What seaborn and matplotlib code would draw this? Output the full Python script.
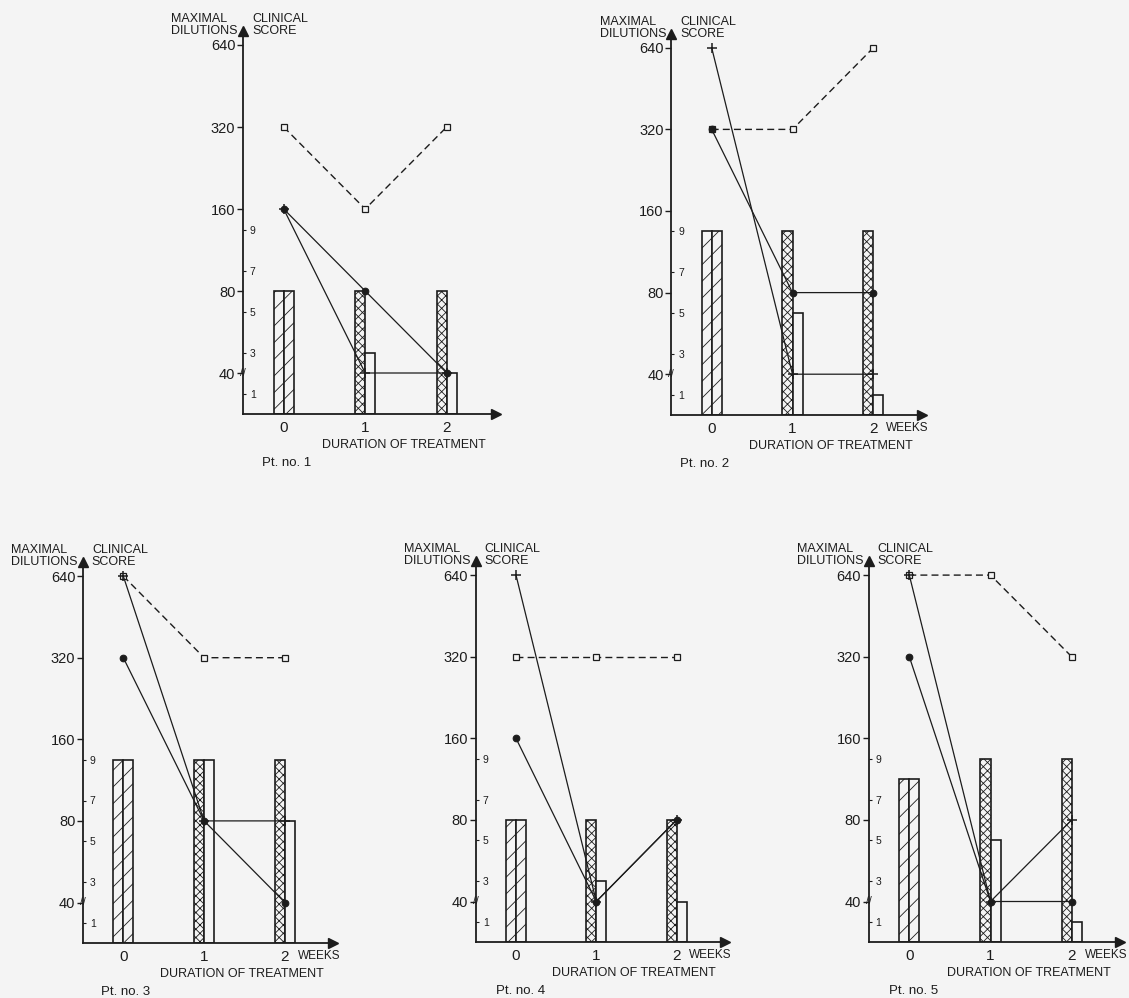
import matplotlib
matplotlib.use("Agg")
import matplotlib.pyplot as plt
import seaborn as sns
import pandas as pd
import numpy as np

# ---------------- data ----------------
weeks = [0, 1, 2]
week_labels = ["0", "1", "2"]
dil_ticks = [40, 80, 160, 320, 640]
dil_labels = ["40", "80", "160", "320", "640"]
score_ticks = [1, 3, 5, 7, 9]
patients = ["Pt. no. 1", "Pt. no. 2", "Pt. no. 3", "Pt. no. 4", "Pt. no. 5"]

# maximal dilutions (dashed/open squares, solid/filled circles, solid/plus)
p1_dashed = [320, 160, 320]
p1_circle = [160, 80, 40]
p1_plus = [160, 40, 40]
p2_dashed = [320, 320, 640]
p2_circle = [320, 80, 80]
p2_plus = [640, 40, 40]
p3_dashed = [640, 320, 320]
p3_circle = [320, 80, 40]
p3_plus = [640, 80, 80]
p4_dashed = [320, 320, 320]
p4_circle = [160, 40, 80]
p4_plus = [640, 40, 80]
p5_dashed = [640, 640, 320]
p5_circle = [320, 40, 40]
p5_plus = [640, 40, 80]

# clinical scores (left bar / right bar at each week)
p1_score_left = [6, 6, 6]
p1_score_right = [6, 3, 2]
p2_score_left = [9, 9, 9]
p2_score_right = [9, 5, 1]
p3_score_left = [9, 9, 9]
p3_score_right = [9, 9, 6]
p4_score_left = [6, 6, 6]
p4_score_right = [6, 3, 2]
p5_score_left = [8, 9, 9]
p5_score_right = [8, 5, 1]

dashed_all = [p1_dashed, p2_dashed, p3_dashed, p4_dashed, p5_dashed]
circle_all = [p1_circle, p2_circle, p3_circle, p4_circle, p5_circle]
plus_all = [p1_plus, p2_plus, p3_plus, p4_plus, p5_plus]
left_all = [p1_score_left, p2_score_left, p3_score_left, p4_score_left, p5_score_left]
right_all = [p1_score_right, p2_score_right, p3_score_right, p4_score_right, p5_score_right]

# ---------------- layout (pixels) ----------------
W, H = 1129, 998
BG = "#f4f4f4"
INK = "#1c1c1c"
# (x of week 0, px per week, baseline y, px per score unit)
layout = [
    (283.7, 81.5, 414.0, 20.5),
    (711.7, 80.8, 415.0, 20.4),
    (123.3, 80.8, 943.3, 20.4),
    (516.0, 80.3, 942.3, 20.4),
    (909.3, 81.2, 942.3, 20.4),
]
pt_xpos = [-0.27, -0.39, -0.27, -0.25, -0.25]
show_weeks = [False, True, True, True, True]
XMIN, XMAX = -0.5, 2.6
YTOP = 18.7  # in score units

sns.set_theme(style="white")
plt.rcParams["font.family"] = ["Liberation Sans", "DejaVu Sans"]
plt.rcParams["hatch.linewidth"] = 0.6
plt.rcParams["hatch.color"] = INK

fig = plt.figure(figsize=(W / 100, H / 100), dpi=100, facecolor=BG)

for i in range(5):
    x0, ux, base, us = layout[i]
    left = (x0 + XMIN * ux) / W
    width = (XMAX - XMIN) * ux / W
    bottom = 1 - base / H
    height = YTOP * us / H
    ax = fig.add_axes([left, bottom, width, height])
    ax.set_facecolor("none")

    # ---- bars: clinical score ----
    bars = pd.DataFrame({
        "week": weeks + weeks,
        "score": left_all[i] + right_all[i],
        "side": ["left"] * 3 + ["right"] * 3,
    })
    sns.barplot(data=bars, x="week", y="score", hue="side", native_scale=True,
                width=0.25, gap=0, dodge=True, palette=[BG, BG], saturation=1,
                edgecolor=INK, linewidth=1.2, errorbar=None, legend=False, ax=ax)
    for p in ax.patches:
        cx = p.get_x() + p.get_width() / 2
        wk = round(cx)
        p.set_facecolor(BG)
        p.set_edgecolor(INK)
        if wk == 0:
            p.set_hatch("//")
        elif cx < wk:
            p.set_hatch("xxxx")
        else:
            p.set_hatch("")

    ax.set_xlim(XMIN, XMAX)
    ax.set_ylim(0, YTOP)
    ax.set_xlabel("")
    ax.set_ylabel("")

    # ---- lines: maximal dilutions on log2 twin axis ----
    ax2 = ax.twinx()
    ax2.set_facecolor("none")
    sns.lineplot(x=weeks, y=dashed_all[i], ax=ax2, color=INK, lw=1.0,
                 linestyle=(0, (5, 3)), marker="s", markersize=4.5,
                 markerfacecolor=BG, markeredgecolor=INK, markeredgewidth=0.9)
    sns.lineplot(x=weeks, y=plus_all[i], ax=ax2, color=INK, lw=0.9,
                 marker="+", markersize=6.5, markeredgewidth=1.1,
                 markeredgecolor=INK)
    sns.lineplot(x=weeks, y=circle_all[i], ax=ax2, color=INK, lw=0.9,
                 marker="o", markersize=4.8, markerfacecolor=INK,
                 markeredgecolor=INK)
    ax2.set_yscale("log", base=2)
    ax2.set_ylim(40 / np.sqrt(2), 40 * 2 ** ((YTOP - 2) / 4))
    ax2.set_xlim(XMIN, XMAX)
    ax2.set_yticks(dil_ticks)
    ax2.set_yticklabels(dil_labels)
    ax2.yaxis.set_minor_locator(matplotlib.ticker.NullLocator())
    ax2.yaxis.tick_left()
    ax2.tick_params(axis="y", which="major", left=True, labelleft=True,
                    right=False, labelright=False, direction="out",
                    length=4, width=1.0, color=INK, pad=1.5,
                    labelsize=10.5, labelcolor=INK)
    ax2.set_ylabel("")
    for s in ax2.spines.values():
        s.set_visible(False)

    # score ticks drawn on the inner side of the left axis
    ax.yaxis.tick_right()
    ax.spines["right"].set_position(("axes", 0))
    ax.set_yticks(score_ticks)
    ax.set_yticklabels([str(t) for t in score_ticks])
    ax.tick_params(axis="y", right=True, labelright=True, left=False,
                   labelleft=False, direction="out", length=2.5, width=0.8,
                   color=INK, pad=2.5, labelsize=7.5, labelcolor=INK)
    ax.set_xticks(weeks)
    ax.set_xticklabels(week_labels)
    ax.tick_params(axis="x", bottom=True, length=0, pad=5, labelsize=11,
                   labelcolor=INK)

    for name, s in ax.spines.items():
        if name in ("left", "bottom"):
            s.set_visible(True)
            s.set_color(INK)
            s.set_linewidth(1.3)
        else:
            s.set_visible(False)

    # axis arrows
    ax.plot([XMAX], [0], marker=">", color=INK, markersize=6.5, clip_on=False)
    ax.plot([XMIN], [YTOP], marker="^", color=INK, markersize=6.5, clip_on=False)
    # axis break at 40
    ax.text(XMIN, 2, "//", ha="center", va="center", fontsize=7.5, color=INK,
            clip_on=False)

    # header texts
    ax.annotate("MAXIMAL\nDILUTIONS", xy=(XMIN, YTOP), xytext=(-5, -6),
                textcoords="offset pixels", ha="right", va="bottom",
                multialignment="left", fontsize=9, linespacing=1.0, color=INK)
    ax.annotate("CLINICAL\nSCORE", xy=(XMIN, YTOP), xytext=(9, -6),
                textcoords="offset pixels", ha="left", va="bottom",
                multialignment="left", fontsize=9, linespacing=1.0, color=INK)

    # x texts
    if show_weeks[i]:
        ax.annotate("WEEKS", xy=(2.16, 0), xytext=(0, -13),
                    textcoords="offset pixels", ha="left", va="center",
                    fontsize=8.5, color=INK)
    ax.annotate("DURATION OF TREATMENT", xy=(1.47, 0), xytext=(0, -31),
                textcoords="offset pixels", ha="center", va="center",
                fontsize=9, color=INK)
    ax.annotate(patients[i], xy=(pt_xpos[i], 0), xytext=(0, -49),
                textcoords="offset pixels", ha="left", va="center",
                fontsize=9.5, color=INK)

fig.savefig("out.png", dpi=100, facecolor=BG)
